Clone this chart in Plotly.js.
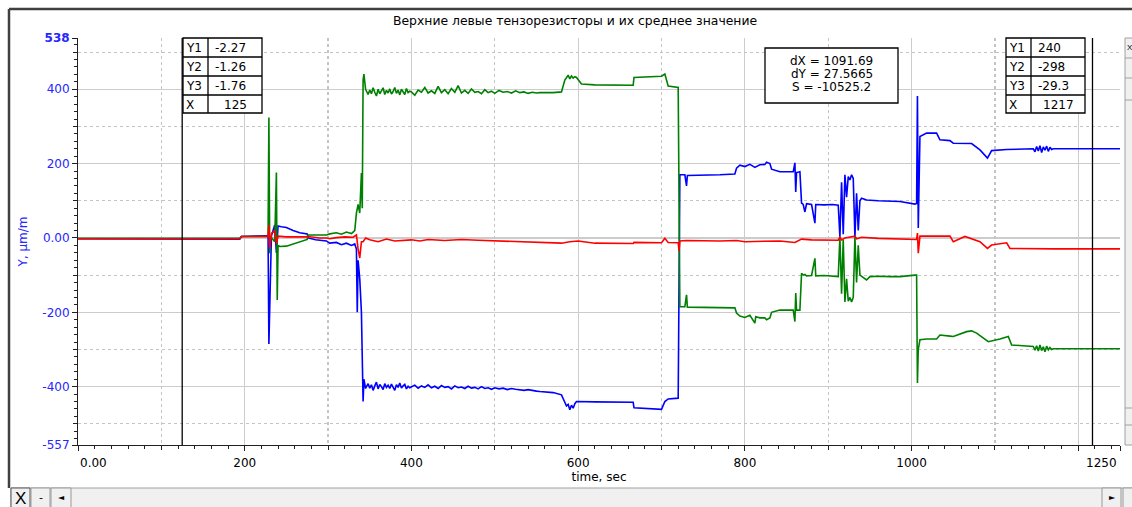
<!DOCTYPE html>
<html><head><meta charset="utf-8">
<script src="https://cdn.plot.ly/plotly-3.0.1.min.js"></script>
<style>html,body{margin:0;padding:0;background:#fff;}#chart{width:1132px;height:507px;}</style>
</head><body><div id="chart"></div>
<script>
// ---------- DATA ----------
const titleText = "Верхние левые тензорезисторы и их среднее значение";
const xTitle = "time, sec";
const yTitle = "Y, µm/m";
const xTickVals = [0, 200, 400, 600, 800, 1000, 1200, 1250];
const xTickText = ["", "200", "400", "600", "800", "1000", "", ""];
const xRange = [0, 1250];
const yRange = [-557, 538];
const yTickVals = [-557, -400, -200, 0, 200, 400, 538];
const yTickText = ["-557", "-400", "-200", "0.00", "200", "400", "<b>538</b>"];

// Y1 (blue)
const t1 = [0,125,194,196,216,218,228,229,231,232,234,236,238,240,244,250,258,266,275,276,285,298,302,310,316,322,328,332,334,335,336,338,340,342,343,345,
  348,350,352,354,356,358,360,362,364,366,368,370,372,374,376,378,380,382,384,386,388,390,392,394,396,398,400,404,408,412,416,420,424,428,432,436,440,444,448,452,456,460,464,468,472,476,480,484,488,492,496,500,505,510,515,520,525,530,535,540,545,550,554,
  570,580,584,586,588,590,592,594,596,598,620,640,666,667,690,700,704,708,720,722,728,730,731,746,770,788,790,794,800,806,812,818,824,826,830,832,836,842,858,860,861,862,866,868,870,872,874,880,884,885,895,905,912,914,916,918,920,922,924,926,928,930,932,934,936,938,940,946,960,975,986,1004,1006,1007,1008,1010,1018,1030,1034,1046,1050,1072,1082,1091,1096,1114,1146,1148,1150,1152,1154,1156,1158,1160,1162,1164,1166,1168,1170,1250];
const y1 = [-2,-2.27,-3,4,4,6,6,-285,-120,5,20,35,-40,32,30,28,20,14,11,0,-5,-8,-14,-12,-18,-14,-20,-16,-30,-200,-60,-110,-200,-440,-380,-405,
  -392,-404,-395,-410,-398,-388,-406,-394,-400,-408,-392,-402,-396,-405,-393,-400,-410,-395,-402,-390,-404,-398,-394,-406,-399,-403,-400,-396,-404,-398,-402,-395,-403,-399,-405,-397,-402,-400,-406,-398,-403,-401,-405,-399,-404,-402,-406,-400,-405,-403,-407,-403,-406,-404,-408,-405,-407,-409,-410,-408,-411,-412,-413,
  -416,-422,-444,-452,-448,-462,-450,-458,-446,-440,-441,-442,-442,-457,-460,-461,-440,-433,-431,170,170,140,168,168,170,172,188,196,192,198,190,197,198,204,200,185,183,178,178,202,124,176,178,94,90,70,92,90,40,90,89,90,88,3,150,10,170,110,165,156,170,160,3,120,20,100,107,102,100,98,98,91,93,382,27,273,282,282,264,262,255,254,237,215,235,238,240,232,246,234,248,230,245,236,247,233,244,238,240,240];

// Y2 (green)
const t2 = [0,125,194,196,228,229,230,231,236,238,239,240,242,250,260,270,275,276,298,302,310,316,322,328,332,334,336,338,340,341,342,343,345,
  348,350,352,354,356,358,360,362,364,366,368,370,372,374,376,378,380,382,384,386,388,390,392,394,396,398,400,404,408,412,416,420,424,428,432,436,440,444,448,452,456,460,464,468,472,476,480,484,488,492,496,500,505,510,515,520,525,530,535,540,545,550,554,
  570,580,584,586,588,590,592,594,596,598,604,620,640,666,667,690,700,704,708,720,722,728,730,731,770,788,790,794,800,806,812,813,818,824,826,830,832,836,842,858,860,861,862,866,868,870,872,874,880,884,885,895,905,912,914,916,918,920,922,924,926,928,930,932,934,936,938,940,946,950,960,975,986,1004,1006,1007,1008,1010,1018,1030,1034,1046,1050,1066,1072,1078,1092,1106,1116,1120,1146,1148,1150,1152,1154,1156,1158,1160,1162,1164,1166,1168,1170,1250];
const y2 = [-1,-1.26,-1,4,4,324,-41,4,-10,176,-167,-20,-23,-22,-15,-8,-4,8,8,11,14,10,16,12,20,67,90,67,175,80,425,441,400,
  386,398,388,404,392,382,400,388,396,404,386,397,390,401,387,394,405,389,398,385,400,392,386,402,391,395,393,384,398,392,405,390,396,389,408,391,399,388,402,392,410,390,397,389,401,392,394,388,399,391,395,389,397,392,394,390,396,391,393,389,392,390,391,
  391,393,425,432,438,428,436,430,434,432,414,412,411,411,432,433,435,441,409,405,-185,-185,-153,-186,-186,-188,-202,-210,-214,-208,-229,-212,-215,-215,-220,-215,-200,-198,-194,-194,-225,-148,-194,-194,-95,-100,-98,-102,-101,-55,-102,-101,-103,-104,3,-150,-5,-172,-110,-170,-160,-172,-160,3,-120,-20,-100,-103,-113,-104,-103,-104,-104,-100,-100,-390,-300,-274,-272,-272,-261,-264,-265,-252,-250,-256,-279,-272,-265,-288,-292,-302,-290,-304,-288,-303,-293,-306,-291,-301,-295,-300,-298,-298];

// Y3 (red, mean)
const t3 = [0,125,194,196,228,229,230,232,236,238,240,250,266,275,276,290,298,302,310,320,330,334,336,338,340,342,345,350,360,370,380,400,410,420,440,460,480,500,520,540,554,580,590,600,620,640,666,667,700,704,708,720,721,722,730,770,790,800,820,842,860,868,880,912,914,916,920,932,934,940,960,986,1004,1006,1007,1008,1010,1046,1050,1064,1082,1091,1096,1114,1118,1150,1170,1250];
const y3 = [-2,-1.76,-2,4,4,35,-27,12,20,-15,5,3,2,3,4,0,0,-2,1,3,2,8,-30,-54,-10,-10,0,-5,-10,-3,-8,-5,-8,-4,-7,-4,-6,-8,-8,-10,-12,-14,-10,-8,-14,-15,-15,-12,-13,-1,-12,-13,-35,-8,-7,-8,-7,-10,-9,-8,-12,-3,-5,-6,3,-5,0,5,-2,2,-1,-3,-5,-4,13,-41,5,5,-10,4,-10,-28,-19,-13,-28,-30,-29.3,-29.3];

// Cursors
const cursorX = [125, 1217];
const cursorLabels = ["Y1", "Y2", "Y3", "X"];
const cursorLeftVals = ["-2.27", "-1.26", "-1.76", "125"];
const cursorRightVals = ["240", "-298", "-29.3", "1217"];
const deltaText = ["dX = 1091.69", "dY = 27.5665", "S = -10525.2"];

// ---------- LAYOUT HELPERS ----------
const L = 78, R = 1120, T = 38, B = 445;
const PX = x => (x - L) / (R - L);
const PY = y => (B - y) / (B - T);
const FONT = "DejaVu Sans, Verdana, sans-serif";
const BLUE = "#0000ff", GREEN = "#008000", RED = "#ff0000", AXBLUE = "#2626ff";

const traces = [
  {x: t1, y: y1, type: "scatter", mode: "lines", line: {color: BLUE, width: 1.6}, xaxis: "x", yaxis: "y", hoverinfo: "skip"},
  {x: t2, y: y2, type: "scatter", mode: "lines", line: {color: GREEN, width: 1.6}, xaxis: "x", yaxis: "y", hoverinfo: "skip"},
  {x: t3, y: y3, type: "scatter", mode: "lines", line: {color: RED, width: 1.6}, xaxis: "x2", yaxis: "y2", hoverinfo: "skip"}
];

const shapes = [];
const annotations = [];
function rectPx(x0, y0, x1, y1, opt) {
  shapes.push(Object.assign({type: "rect", xref: "paper", yref: "paper", x0: PX(x0), x1: PX(x1), y0: PY(y0), y1: PY(y1), line: {color: "#000", width: 1.3}, layer: "above"}, opt || {}));
}
function linePx(x0, y0, x1, y1, color, width) {
  shapes.push({type: "line", xref: "paper", yref: "paper", x0: PX(x0), x1: PX(x1), y0: PY(y0), y1: PY(y1), line: {color: color, width: width}, layer: "above"});
}
function textPx(x, y, text, xanchor, opt) {
  annotations.push(Object.assign({xref: "paper", yref: "paper", x: PX(x), y: PY(y), text: text, showarrow: false, xanchor: xanchor || "left", yanchor: "middle", font: {family: FONT, size: 12, color: "#000"}}, opt || {}));
}

// cursor lines (from the data x-values)
cursorX.forEach(cx => {
  shapes.push({type: "line", xref: "x", yref: "paper", x0: cx, x1: cx, y0: 0, y1: 1, line: {color: "#000", width: 1.3}, layer: "above"});
});

// cursor tables
function table(x0, vals) {
  const colW = 25, valW = 54, rowH = 19;
  const x1 = x0 + colW, x2 = x0 + colW + valW;
  rectPx(x0, T, x2, T + 4 * rowH - 1, {fillcolor: "#fff"});
  linePx(x1, T, x1, T + 4 * rowH - 1, "#000", 1.3);
  for (let i = 1; i < 4; i++) linePx(x0, T + i * rowH, x2, T + i * rowH, "#000", 1.3);
  for (let i = 0; i < 4; i++) {
    const cy = T + i * rowH + rowH / 2;
    textPx(x0 + 1, cy, cursorLabels[i], "left");
    if (i < 3) textPx(x1 + 5, cy, vals[i], "left");
    else textPx((x1 + x2) / 2, cy, vals[i], "center");
  }
}
table(183, cursorLeftVals);
table(1006, cursorRightVals);

// delta box
rectPx(765, 48, 898, 103, {fillcolor: "#fff"});
deltaText.forEach((s, i) => textPx(831.5, 61 + i * 13, s, "center"));

// edge tick labels
textPx(78, 463, "0.00", "left");
textPx(1119, 463, "1250", "right");

// window chrome
linePx(9, 9, 1140, 9, "#404040", 2.5);
linePx(9, 9, 9, 488, "#404040", 2.5);
rectPx(11, 488, 1140, 510, {fillcolor: "#f0f0f0", line: {color: "#a0a0a0", width: 1}});
rectPx(11, 488, 30, 508, {fillcolor: "#f0f0f0", line: {color: "#555", width: 1}});
rectPx(31, 488, 50, 508, {fillcolor: "#f0f0f0", line: {color: "#999", width: 1}});
rectPx(51, 488, 71, 508, {fillcolor: "#f0f0f0", line: {color: "#999", width: 1}});
rectPx(1102, 488, 1121, 508, {fillcolor: "#f0f0f0", line: {color: "#999", width: 1}});
rectPx(1123, 488, 1140, 508, {fillcolor: "#f0f0f0", line: {color: "#999", width: 1}});
textPx(20.5, 498, "X", "center", {font: {family: "Liberation Sans", size: 17, color: "#000"}});
textPx(40.5, 497, "-", "center", {font: {family: FONT, size: 11, color: "#000"}});
textPx(61, 497, "◄", "center", {font: {family: "DejaVu Sans", size: 8, color: "#000"}});
textPx(1112, 497, "►", "center", {font: {family: "DejaVu Sans", size: 8, color: "#000"}});
rectPx(1125, 38, 1140, 445, {fillcolor: "#f0f0f0", line: {color: "#a0a0a0", width: 1}});
[58, 78, 100, 408, 425].forEach(y => linePx(1125, y, 1140, y, "#a0a0a0", 1));
textPx(1125, 47, "X", "left", {font: {family: "Liberation Sans", size: 8, color: "#000"}});

const axisCommon = {zeroline: false, fixedrange: true};
const layout = {
  width: 1132, height: 507,
  margin: {l: L, r: 1132 - R, t: T, b: 507 - B, pad: 0},
  paper_bgcolor: "#fff", plot_bgcolor: "#fff",
  showlegend: false,
  font: {family: FONT, size: 12, color: "#000"},
  title: {text: titleText, x: 0.508, xref: "container", xanchor: "center", y: 1 - 21 / 507, yref: "container", yanchor: "middle", font: {family: FONT, size: 12.4, color: "#000"}},
  xaxis: Object.assign({}, axisCommon, {
    range: xRange, tickmode: "array", tickvals: xTickVals, ticktext: xTickText,
    showgrid: true, gridcolor: "#cccccc", gridwidth: 1.2,
    showline: true, linecolor: "#202020", linewidth: 1,
    ticks: "outside", ticklen: 5, tickcolor: "#202020",
    minor: {tickmode: "linear", tick0: 0, dtick: 20, ticks: "outside", ticklen: 3, tickcolor: "#202020", showgrid: false},
    tickfont: {family: FONT, size: 12, color: "#000"},
    ticklabelstandoff: 2,
    title: {text: xTitle, font: {family: FONT, size: 12, color: "#000"}, standoff: 2}
  }),
  yaxis: Object.assign({}, axisCommon, {
    range: yRange, tickmode: "array", tickvals: yTickVals, ticktext: yTickText,
    showgrid: true, gridcolor: "#cccccc", gridwidth: 1.2,
    showline: true, linecolor: "#202020", linewidth: 1,
    ticks: "outside", ticklen: 5, tickcolor: "#202020",
    minor: {tickmode: "linear", tick0: 0, dtick: 20, ticks: "outside", ticklen: 3, tickcolor: "#202020", showgrid: false},
    tickfont: {family: FONT, size: 12, color: AXBLUE},
    title: {text: yTitle, font: {family: FONT, size: 12, color: AXBLUE}, standoff: 12}
  }),
  xaxis2: Object.assign({}, axisCommon, {
    overlaying: "x", anchor: "y2", side: "bottom", range: xRange,
    tickmode: "linear", tick0: 100, dtick: 200,
    showgrid: true, griddash: "dot", gridcolor: "#c4c4c4", gridwidth: 1.2,
    ticks: "outside", ticklen: 4, tickcolor: "#202020", showticklabels: false, showline: false
  }),
  yaxis2: Object.assign({}, axisCommon, {
    overlaying: "y", anchor: "x2", side: "left", range: yRange,
    tickmode: "linear", tick0: 100, dtick: 200,
    showgrid: true, griddash: "dot", gridcolor: "#c4c4c4", gridwidth: 1.2,
    ticks: "outside", ticklen: 4, tickcolor: "#202020", showticklabels: false, showline: false
  }),
  shapes: shapes,
  annotations: annotations
};

Plotly.newPlot("chart", traces, layout, {staticPlot: true, displayModeBar: false});
</script>
</body></html>
